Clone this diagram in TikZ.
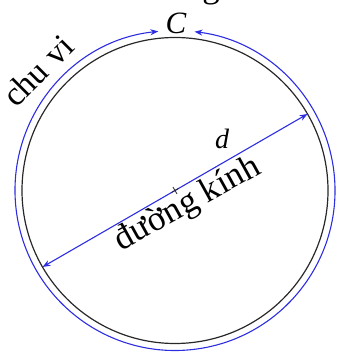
\documentclass[tikz,border=0pt]{standalone}
\usepackage{fontspec}
\setmainfont{Liberation Serif}
\usetikzlibrary{arrows.meta}
\definecolor{circblue}{RGB}{45,45,225}
\definecolor{circgray}{RGB}{40,40,40}
\begin{document}
\begin{tikzpicture}[x=1pt,y=1pt,
  bigtext/.style={font=\fontsize{35}{40}\selectfont, inner sep=0pt},
  blueline/.style={draw=circblue, line width=1.1pt, {Stealth[length=8pt,width=6pt]}-{Stealth[length=8pt,width=6pt]}},
  ringline/.style={draw=circgray, line width=1.2pt}]
\useasboundingbox (0,0) rectangle (336,352);
\coordinate (O) at (175,161.5);
% circle
\draw[ringline] (O) circle[radius=153];
% circumference arc with arrows
\draw[blueline] ([shift={(96:160)}]O) arc[start angle=96, end angle=443, radius=160];
% diameter
\coordinate (A) at ([shift={(210:153)}]O);
\coordinate (B) at ([shift={(30:153)}]O);
\draw[blueline] (A) -- (B);
% center mark
\draw[circgray, line width=0.8pt] ([shift={(120:4)}]O) -- ([shift={(300:4)}]O);
\draw[circgray, line width=0.8pt] ([shift={(30:4)}]O) -- ([shift={(210:4)}]O);
% labels
\node[inner sep=0pt, font=\fontsize{31}{36}\selectfont\itshape] (lC) at (176,329) {C};
\node[inner sep=0pt, font=\fontsize{28}{32}\selectfont\itshape] (ld) at (222,213) {d};
\node[bigtext, anchor=base, rotate=29] (ldk) at (192,140) {\symbol{"0111}\symbol{"01B0}\symbol{"1EDD}ng k\symbol{"00ED}nh};
\node[bigtext, font=\fontsize{34}{38}\selectfont, anchor=base, rotate=45] (lcv) at (46,273) {chu vi};
\node[bigtext, anchor=base] (lg) at (211,354) {g};
\end{tikzpicture}
\end{document}
